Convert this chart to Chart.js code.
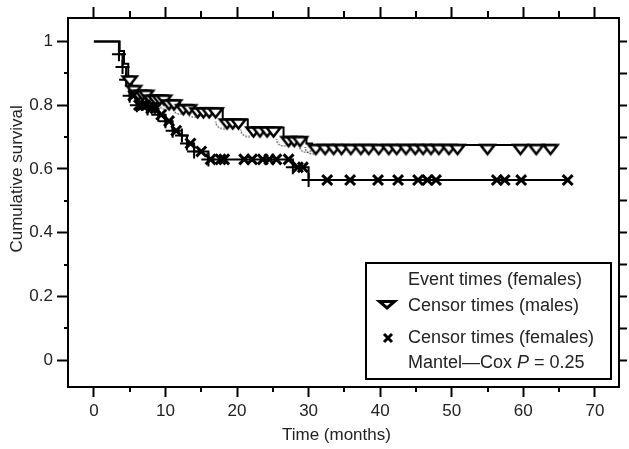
<!DOCTYPE html>
<html>
<head>
<meta charset="utf-8">
<script src="https://cdn.jsdelivr.net/npm/chart.js@4.4.1/dist/chart.umd.min.js"></script>
<style>
  html, body { margin: 0; padding: 0; background: #fff; }
  canvas { display: block; }
</style>
</head>
<body>
<canvas id="kmChart" width="629" height="449"></canvas>
<script>
// Kaplan-Meier steps (months, cumulative survival)
const maleStepTimes = [0, 3.6, 4.2, 4.8, 5.3, 6.0, 7.5, 10.0, 12.0, 14.0, 18.0, 21.5, 26.5, 29.7, 30.5, 64.5];
const maleStepSurv  = [1, 0.97, 0.93, 0.89, 0.86, 0.845, 0.83, 0.815, 0.80, 0.79, 0.755, 0.73, 0.70, 0.68, 0.675, 0.675];

const femaleStepTimes = [0, 3.5, 4.0, 4.5, 5.0, 6.0, 7.5, 9.0, 10.0, 11.0, 12.3, 13.0, 14.0, 16.0, 27.8, 30.0, 66.2];
const femaleStepSurv  = [1, 0.96, 0.92, 0.88, 0.83, 0.80, 0.79, 0.77, 0.75, 0.72, 0.705, 0.68, 0.655, 0.63, 0.605, 0.565, 0.565];

// censored observations
const maleCensorTimes = [5.0, 5.6, 6.2, 6.8, 7.3, 8.0, 8.6, 9.2, 9.8, 10.5, 11.2, 12.5, 13.3, 14.5, 15.3, 16.1, 17.0,
  18.6, 19.4, 20.2, 22.3, 23.2, 24.2, 25.1, 27.2, 28.0, 28.8, 31.0, 32.3, 33.5, 34.6, 35.9, 37.3, 38.4, 39.8,
  41.2, 42.3, 43.6, 44.9, 46.0, 47.1, 48.2, 49.6, 50.8, 55.0, 59.6, 61.8, 63.8];
const femaleCensorTimes = [5.5, 6.3, 6.8, 7.2, 8.0, 8.6, 9.4, 10.5, 11.5, 13.5, 15.0, 16.3, 17.7, 18.2, 21.0, 22.1,
  23.6, 24.5, 25.5, 27.2, 28.5, 29.2, 32.6, 35.8, 39.7, 42.5, 45.3, 46.6, 47.8, 56.3, 57.4, 59.7, 66.2];

// axes
const xMin = -3.62, xMax = 73.37;
const yMin = -0.084, yMax = 1.0735;
const xMajorTicks = [0, 10, 20, 30, 40, 50, 60, 70];
const xMinorTicks = [5, 15, 25, 35, 45, 55, 65];
const yMajorTicks = [0, 0.2, 0.4, 0.6, 0.8, 1];
const yMinorTicks = [0.1, 0.3, 0.5, 0.7, 0.9];
const yRightTicks = [0, 0.1, 0.2, 0.3, 0.4, 0.5, 0.6, 0.7, 0.8, 0.9, 1];

const legendLabels = ['Event times (females)', 'Censor times (males)', 'Censor times (females)'];
const testLabel = ['Mantel\u2014Cox ', 'P', ' = 0.25'];

Chart.defaults.font.family = '"Liberation Sans", Arial, sans-serif';

function survAt(times, surv, t) {
  let s = surv[0];
  for (let i = 0; i < times.length; i++) {
    if (times[i] <= t) s = surv[i];
  }
  return s;
}

function stepPoints(times, surv) {
  return times.map((t, i) => ({ x: t, y: surv[i] }));
}

// hanging triangle: top edge sits on the curve
function makeTriangle(w, h, lw) {
  const c = document.createElement('canvas');
  c.width = w + lw * 2 + 2;
  c.height = (h + lw) * 2 + 2;
  const g = c.getContext('2d');
  const cx = c.width / 2, top = c.height / 2;
  g.beginPath();
  g.moveTo(cx - w / 2, top);
  g.lineTo(cx + w / 2, top);
  g.lineTo(cx, top + h);
  g.closePath();
  g.fillStyle = '#fff';
  g.fill();
  g.lineWidth = lw;
  g.strokeStyle = '#000';
  g.stroke();
  return c;
}

// dotted half circle under the step
function makeArc(r) {
  const c = document.createElement('canvas');
  c.width = r * 2 + 6;
  c.height = r * 2 + 6;
  const g = c.getContext('2d');
  g.setLineDash([1.5, 1.5]);
  g.lineWidth = 1.2;
  g.strokeStyle = '#222';
  g.beginPath();
  g.arc(c.width / 2, c.height / 2 + 2, r, 0, Math.PI);
  g.stroke();
  return c;
}

const triangleMark = makeTriangle(14, 9, 2.5);
const arcMark = makeArc(7);

const ctx = document.getElementById('kmChart').getContext('2d');

const minorTicksPlugin = {
  id: 'minorTicks',
  afterDraw(chart) {
    const c = chart.ctx;
    const { x, y } = chart.scales;
    const area = chart.chartArea;
    c.save();
    c.strokeStyle = '#000';
    c.lineWidth = 2;
    c.beginPath();
    xMinorTicks.forEach(v => {
      const px = Math.round(x.getPixelForValue(v));
      c.moveTo(px, area.bottom); c.lineTo(px, area.bottom + 5);
      c.moveTo(px, area.top); c.lineTo(px, area.top - 7);
    });
    yMinorTicks.forEach(v => {
      const py = Math.round(y.getPixelForValue(v));
      c.moveTo(area.left, py); c.lineTo(area.left - 4, py);
    });
    c.stroke();
    c.restore();
  }
};

const legendPlugin = {
  id: 'boxLegend',
  afterDraw(chart) {
    const c = chart.ctx;
    c.save();
    c.fillStyle = '#fff';
    c.fillRect(366, 263, 245, 116);
    c.lineWidth = 2;
    c.strokeStyle = '#000';
    c.strokeRect(366, 263, 245, 116);

    c.fillStyle = '#222';
    c.font = '18px "Liberation Sans", Arial, sans-serif';
    c.textBaseline = 'alphabetic';
    c.textAlign = 'left';
    c.fillText(legendLabels[0], 408, 285);
    c.fillText(legendLabels[1], 408, 311);
    c.fillText(legendLabels[2], 408, 343);

    let tx = 408;
    c.fillText(testLabel[0], tx, 368);
    tx += c.measureText(testLabel[0]).width;
    c.font = 'italic 18px "Liberation Sans", Arial, sans-serif';
    c.fillText(testLabel[1], tx, 368);
    tx += c.measureText(testLabel[1]).width;
    c.font = '18px "Liberation Sans", Arial, sans-serif';
    c.fillText(testLabel[2], tx, 368);

    // symbols
    c.strokeStyle = '#000';
    c.lineWidth = 3;
    c.beginPath();
    c.moveTo(379.5, 301.5);
    c.lineTo(394.5, 301.5);
    c.lineTo(387, 308);
    c.closePath();
    c.stroke();

    c.lineWidth = 3;
    c.beginPath();
    c.moveTo(384, 334); c.lineTo(392, 342);
    c.moveTo(392, 334); c.lineTo(384, 342);
    c.stroke();
    c.restore();
  }
};

const edgeGrid = len => ({
  drawOnChartArea: false,
  drawTicks: true,
  tickLength: len,
  tickWidth: 2,
  tickColor: '#000'
});
const edgeBorder = { display: true, color: '#000', width: 2 };

new Chart(ctx, {
  type: 'line',
  data: {
    datasets: [
      {
        label: 'Censor times (females)',
        data: femaleCensorTimes.map(t => ({ x: t, y: survAt(femaleStepTimes, femaleStepSurv, t) })),
        showLine: false,
        pointStyle: 'crossRot',
        pointRadius: 7,
        pointBorderWidth: 3,
        pointBorderColor: '#000'
      },
      {
        label: 'Censor times (males)',
        data: maleCensorTimes.map(t => ({ x: t, y: survAt(maleStepTimes, maleStepSurv, t) })),
        showLine: false,
        pointStyle: triangleMark,
        pointRadius: 7
      },
      {
        label: 'Event times (females)',
        data: femaleStepTimes.slice(1, -1).map((t, i) => ({ x: t, y: femaleStepSurv[i + 1] })),
        showLine: false,
        pointStyle: 'cross',
        pointRadius: 7,
        pointBorderWidth: 2,
        pointBorderColor: '#000'
      },
      {
        label: 'Event times (males)',
        data: maleStepTimes.slice(5, -1).map((t, i) => ({ x: t, y: maleStepSurv[i + 5] })),
        showLine: false,
        pointStyle: arcMark,
        pointRadius: 7
      },
      {
        label: 'Females',
        data: stepPoints(femaleStepTimes, femaleStepSurv),
        stepped: 'before',
        borderColor: '#000',
        borderWidth: 2,
        pointRadius: 0,
        fill: false
      },
      {
        label: 'Males',
        data: stepPoints(maleStepTimes, maleStepSurv),
        stepped: 'before',
        borderColor: '#000',
        borderWidth: 2,
        pointRadius: 0,
        fill: false
      }
    ]
  },
  options: {
    responsive: false,
    animation: false,
    devicePixelRatio: 1,
    events: [],
    layout: { padding: 0 },
    plugins: {
      legend: { display: false },
      tooltip: { enabled: false }
    },
    scales: {
      x: {
        type: 'linear',
        position: 'bottom',
        min: xMin,
        max: xMax,
        afterBuildTicks: s => { s.ticks = xMajorTicks.map(v => ({ value: v })); },
        afterFit: s => { s.height = 62; },
        grid: edgeGrid(10),
        border: edgeBorder,
        ticks: {
          color: '#222',
          font: { size: 17 },
          padding: 4,
          maxRotation: 0,
          autoSkip: false,
          callback: v => String(v)
        },
        title: {
          display: true,
          text: 'Time (months)\u00a0\u00a0\u00a0',
          color: '#222',
          font: { size: 17 },
          padding: { top: 0, bottom: 3 }
        }
      },
      xTop: {
        type: 'linear',
        position: 'top',
        min: xMin,
        max: xMax,
        afterBuildTicks: s => { s.ticks = xMajorTicks.map(v => ({ value: v })); },
        afterFit: s => { s.height = 18; },
        grid: edgeGrid(11),
        border: edgeBorder,
        ticks: { display: false }
      },
      y: {
        type: 'linear',
        position: 'left',
        min: yMin,
        max: yMax,
        afterBuildTicks: s => { s.ticks = yMajorTicks.map(v => ({ value: v })); },
        afterFit: s => { s.width = 68; },
        grid: edgeGrid(11),
        border: edgeBorder,
        ticks: {
          color: '#222',
          font: { size: 17 },
          padding: 4,
          callback: v => String(+v.toFixed(1))
        },
        title: {
          display: true,
          text: '\u00a0'.repeat(10) + 'Cumulative survival',
          color: '#222',
          font: { size: 17 },
          padding: { top: 7, bottom: 0 }
        }
      },
      yRight: {
        type: 'linear',
        position: 'right',
        min: yMin,
        max: yMax,
        afterBuildTicks: s => { s.ticks = yRightTicks.map(v => ({ value: v })); },
        afterFit: s => { s.width = 8; },
        grid: edgeGrid(8),
        border: edgeBorder,
        ticks: { display: false }
      }
    }
  },
  plugins: [minorTicksPlugin, legendPlugin]
});
</script>
</body>
</html>
